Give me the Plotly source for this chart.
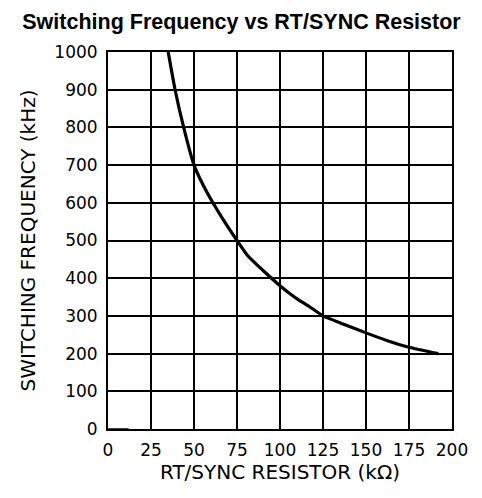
import plotly.graph_objects as go

resistance_kohm = [35, 39, 44, 50, 55, 61, 68, 75, 81, 90, 100, 106, 111, 117, 125, 137, 150, 162, 175, 192]
frequency_khz = [1000, 900, 800, 700, 650, 600, 548, 500, 461, 421, 380, 358, 342, 325, 300, 278, 255, 235, 217, 200]
stub_x = [0, 12]
stub_y = [0, 0]
x_ticks = [0, 25, 50, 75, 100, 125, 150, 175, 200]
y_ticks = [0, 100, 200, 300, 400, 500, 600, 700, 800, 900, 1000]

FONT = "DejaVu Sans, Liberation Sans, Arial, sans-serif"
TFONT = "Liberation Sans, Arial, Helvetica, sans-serif"

fig = go.Figure()
fig.add_trace(go.Scatter(x=stub_x, y=stub_y, mode="lines",
                         line=dict(color="black", width=1.5), hoverinfo="skip"))
fig.add_trace(go.Scatter(x=resistance_kohm, y=frequency_khz, mode="lines",
                         line=dict(color="black", width=3.2, shape="spline", smoothing=0.5)))

# page body has an 8px margin, so the figure is sized to fit the window
fig.update_layout(
    width=474, height=490,
    margin=dict(l=100, r=30, t=44, b=69, autoexpand=False),
    paper_bgcolor="white", plot_bgcolor="white",
    showlegend=False,
    font=dict(family=FONT, color="black", size=17),
    title=dict(text="<b>Switching Frequency vs RT/SYNC Resistor</b>",
               x=0.4926, xanchor="center", y=1 - 13 / 490, yanchor="middle",
               font=dict(family=TFONT, size=21.5, color="black")),
)
fig.update_xaxes(range=[0, 200], tickvals=x_ticks, ticktext=[str(v) for v in x_ticks],
                 showgrid=True, gridcolor="black", gridwidth=1.5,
                 showline=True, linecolor="black", linewidth=2, mirror=True,
                 zeroline=False, ticks="", ticklabelstandoff=5, automargin=False,
                 tickfont=dict(size=17),
                 title=dict(text="RT/SYNC RESISTOR (kΩ)", font=dict(size=20), standoff=1))
fig.update_yaxes(range=[0, 1000], tickvals=y_ticks, ticktext=[str(v) for v in y_ticks],
                 showgrid=True, gridcolor="black", gridwidth=1.5,
                 showline=True, linecolor="black", linewidth=2, mirror=True,
                 zeroline=False, ticks="", ticklabelstandoff=5, automargin=False,
                 tickfont=dict(size=17),
                 title=dict(text="SWITCHING FREQUENCY (kHz)", font=dict(size=20), standoff=13))

fig.write_html("out.html")
